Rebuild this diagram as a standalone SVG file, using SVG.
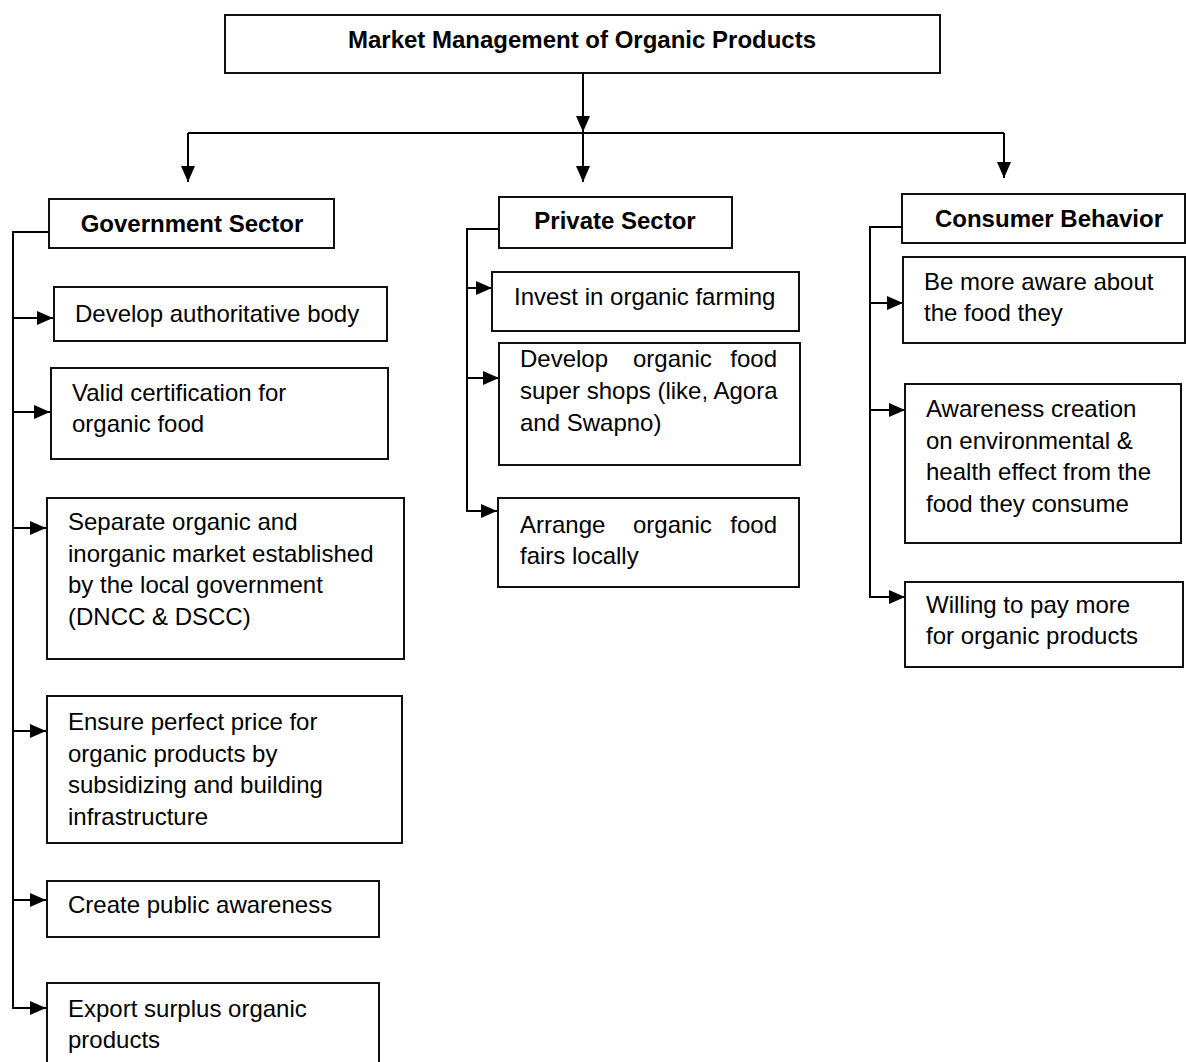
<svg xmlns="http://www.w3.org/2000/svg" width="1186" height="1062" viewBox="0 0 1186 1062">
<style>
  .box { fill: #fff; stroke: #111; stroke-width: 2; }
  .t { font-family: "Liberation Sans", Arial, sans-serif; font-size: 24px; fill: #000; }
  .h { font-family: "Liberation Sans", Arial, sans-serif; font-size: 24px; font-weight: bold; fill: #000; text-anchor: middle; }
  .c { fill: none; stroke: #000; stroke-width: 2; }
</style>
<defs>
  <marker id="arr" markerUnits="userSpaceOnUse" markerWidth="17" markerHeight="14" refX="16" refY="7" orient="auto">
    <path d="M0,0 L16,7 L0,14 z" fill="#000"/>
  </marker>
</defs>

<g id="connectors">
  <path class="c" d="M583,73 V132" marker-end="url(#arr)"/>
  <path class="c" d="M188,133 H1004"/>
  <path class="c" d="M188,133 V182" marker-end="url(#arr)"/>
  <path class="c" d="M583,133 V182" marker-end="url(#arr)"/>
  <path class="c" d="M1004,133 V178" marker-end="url(#arr)"/>

  <path class="c" d="M49,232 H13 V1008 H46" marker-end="url(#arr)"/>
  <path class="c" d="M13,318 H53" marker-end="url(#arr)"/>
  <path class="c" d="M13,412 H50" marker-end="url(#arr)"/>
  <path class="c" d="M13,528 H46" marker-end="url(#arr)"/>
  <path class="c" d="M13,731 H46" marker-end="url(#arr)"/>
  <path class="c" d="M13,900 H46" marker-end="url(#arr)"/>

  <path class="c" d="M499,229 H467 V511 H497" marker-end="url(#arr)"/>
  <path class="c" d="M467,288 H492" marker-end="url(#arr)"/>
  <path class="c" d="M467,378 H499" marker-end="url(#arr)"/>

  <path class="c" d="M902,227 H870 V597 H905" marker-end="url(#arr)"/>
  <path class="c" d="M870,303 H903" marker-end="url(#arr)"/>
  <path class="c" d="M870,410 H905" marker-end="url(#arr)"/>
</g>

<g id="root">
  <rect class="box" x="225" y="15" width="715" height="58"/>
  <text class="h" x="582" y="48">Market Management of Organic Products</text>
</g>

<g id="government">
  <rect class="box" x="49" y="199" width="285" height="49"/>
  <text class="h" x="192" y="232">Government Sector</text>
</g>
<g id="gov1">
  <rect class="box" x="54" y="287" width="333" height="54"/>
  <text class="t" x="75" y="322">Develop authoritative body</text>
</g>
<g id="gov2">
  <rect class="box" x="51" y="368" width="337" height="91"/>
  <text class="t"><tspan x="72" y="401">Valid certification for</tspan><tspan x="72" y="432">organic food</tspan></text>
</g>
<g id="gov3">
  <rect class="box" x="47" y="498" width="357" height="161"/>
  <text class="t"><tspan x="68" y="530">Separate organic and</tspan><tspan x="68" y="562">inorganic market established</tspan><tspan x="68" y="593">by the local government</tspan><tspan x="68" y="625">(DNCC &amp; DSCC)</tspan></text>
</g>
<g id="gov4">
  <rect class="box" x="47" y="696" width="355" height="147"/>
  <text class="t"><tspan x="68" y="730">Ensure perfect price for</tspan><tspan x="68" y="762">organic products by</tspan><tspan x="68" y="793">subsidizing and building</tspan><tspan x="68" y="825">infrastructure</tspan></text>
</g>
<g id="gov5">
  <rect class="box" x="47" y="881" width="332" height="56"/>
  <text class="t" x="68" y="913">Create public awareness</text>
</g>
<g id="gov6">
  <rect class="box" x="47" y="983" width="332" height="90"/>
  <text class="t"><tspan x="68" y="1017">Export surplus organic</tspan><tspan x="68" y="1048">products</tspan></text>
</g>

<g id="private">
  <rect class="box" x="499" y="197" width="233" height="51"/>
  <text class="h" x="615" y="229">Private Sector</text>
</g>
<g id="priv1">
  <rect class="box" x="492" y="272" width="307" height="59"/>
  <text class="t" x="514" y="305">Invest in organic farming</text>
</g>
<g id="priv2">
  <rect class="box" x="499" y="343" width="301" height="122"/>
  <text class="t"><tspan x="520" y="367">Develop</tspan><tspan x="633" y="367">organic</tspan><tspan x="777" y="367" text-anchor="end">food</tspan></text>
  <text class="t"><tspan x="520" y="399">super shops (like, Agora</tspan><tspan x="520" y="431">and Swapno)</tspan></text>
</g>
<g id="priv3">
  <rect class="box" x="498" y="498" width="301" height="89"/>
  <text class="t"><tspan x="520" y="533">Arrange</tspan><tspan x="633" y="533">organic</tspan><tspan x="777" y="533" text-anchor="end">food</tspan></text>
  <text class="t" x="520" y="564">fairs locally</text>
</g>

<g id="consumer">
  <rect class="box" x="902" y="194" width="283" height="49"/>
  <text class="h" x="1049" y="227">Consumer Behavior</text>
</g>
<g id="cons1">
  <rect class="box" x="903" y="257" width="282" height="86"/>
  <text class="t"><tspan x="924" y="290">Be more aware about</tspan><tspan x="924" y="321">the food they</tspan></text>
</g>
<g id="cons2">
  <rect class="box" x="905" y="384" width="276" height="159"/>
  <text class="t"><tspan x="926" y="417">Awareness creation</tspan><tspan x="926" y="449">on environmental &amp;</tspan><tspan x="926" y="480">health effect from the</tspan><tspan x="926" y="512">food they consume</tspan></text>
</g>
<g id="cons3">
  <rect class="box" x="905" y="582" width="278" height="85"/>
  <text class="t"><tspan x="926" y="613">Willing to pay more</tspan><tspan x="926" y="644">for organic products</tspan></text>
</g>
</svg>
